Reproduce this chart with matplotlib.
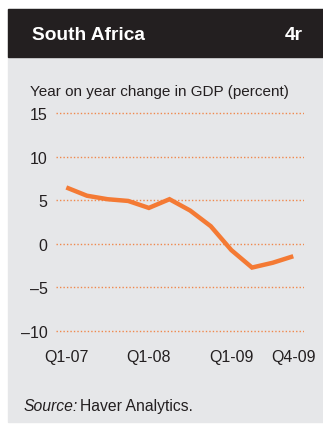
import matplotlib.pyplot as plt
from matplotlib.patches import Rectangle

plt.rcParams['font.family'] = ['Liberation Sans', 'DejaVu Sans']

quarters = ["Q1-07", "Q2-07", "Q3-07", "Q4-07",
            "Q1-08", "Q2-08", "Q3-08", "Q4-08",
            "Q1-09", "Q2-09", "Q3-09", "Q4-09"]
gdp_change = [6.45, 5.5, 5.1, 4.9, 4.1, 5.1, 3.8, 2.0, -0.75, -2.75, -2.2, -1.45]
y_ticks = [15, 10, 5, 0, -5, -10]
x_labels = {0: "Q1-07", 4: "Q1-08", 8: "Q1-09", 11: "Q4-09"}

W, H = 323, 427
fig = plt.figure(figsize=(W / 100, H / 100), dpi=100)
fig.patch.set_facecolor("white")

# panel background and title bar
fig.patches.append(Rectangle((8 / W, 1 - 423 / H), 1, (423 - 10) / H,
                             transform=fig.transFigure, color="#e6e7e9", zorder=-2))
fig.patches.append(Rectangle((8 / W, 1 - 58 / H), 1, 48 / H,
                             transform=fig.transFigure, color="#231f20", zorder=-1))
fig.text(32 / W, 1 - 35 / H, "South Africa", color="white", fontsize=13.8,
         fontweight="bold", va="center", ha="left")
fig.text(303 / W, 1 - 35 / H, "4r", color="white", fontsize=13.8,
         fontweight="bold", va="center", ha="right")
fig.text(30 / W, 1 - 92 / H, "Year on year change in GDP (percent)",
         color="#231f20", fontsize=11, va="center", ha="left")

ax = fig.add_axes([56 / W, 1 - 334.3 / H, (303.6 - 56) / W, (334.3 - 111.4) / H])
ax.set_facecolor("none")
x = list(range(len(quarters)))
ax.plot(x, gdp_change, color="#f47a34", lw=3.2, solid_capstyle="butt",
        solid_joinstyle="miter", zorder=3)

for v in y_ticks:
    ax.axhline(v, color="#f0884c", lw=1.0, linestyle=(0, (1, 1.5)), zorder=1)

ax.set_xlim(-0.5, 11.5)
ax.set_ylim(-10.3, 15.3)
ax.set_yticks(y_ticks)
ax.set_yticklabels([str(v).replace("-", "\u2013") for v in y_ticks])
ax.set_xticks(list(x_labels.keys()))
ax.set_xticklabels(list(x_labels.values()))
ax.tick_params(length=0, labelsize=11.5, labelcolor="#231f20")
ax.tick_params(axis="y", pad=6)
ax.tick_params(axis="x", pad=11)
for s in ax.spines.values():
    s.set_visible(False)

fig.text(24 / W, 1 - 407 / H, "Source:", color="#231f20", fontsize=11.3,
         style="italic", va="center", ha="left")
fig.text(80 / W, 1 - 407 / H, "Haver Analytics.", color="#231f20",
         fontsize=11.3, va="center", ha="left")

fig.savefig("out.png", dpi=100)
